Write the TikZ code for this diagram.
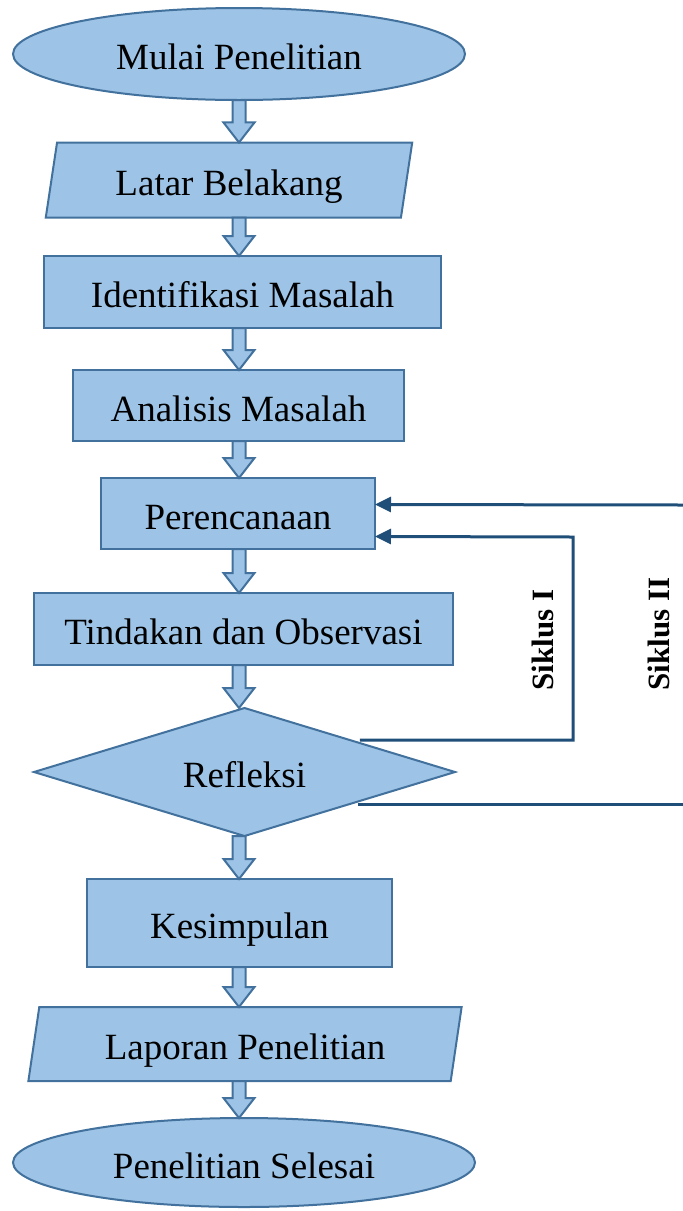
\documentclass[tikz,border=0pt]{standalone}
\usepackage{fontspec}
\setmainfont{Liberation Serif}
\usetikzlibrary{shapes.geometric,calc,arrows.meta}

\definecolor{boxfill}{RGB}{157,195,230}
\definecolor{boxline}{RGB}{65,113,156}
\definecolor{loopcolor}{RGB}{31,78,121}

\tikzset{
  box/.style={draw=boxline, fill=boxfill, line width=1pt, inner sep=0pt, outer sep=0pt,
    text height=15.5pt, text depth=0pt, font=\fontsize{18.5}{22}\selectfont},
  startstop/.style={box, ellipse},
  iobox/.style={box, trapezium, trapezium left angle=76.5, trapezium right angle=103.5,
    trapezium stretches=true},
  decision/.style={box, diamond, aspect=3.29},
  blockarr/.style={draw=boxline, fill=boxfill, line width=1pt, line join=miter},
  loopline/.style={draw=loopcolor, line width=1.5pt},
  looparrow/.style={loopline, -{Triangle[length=8pt,width=7.5pt]}},
  cyclelabel/.style={rotate=90, font=\fontsize{15.5}{18}\bfseries}
}

% block arrow between two nodes, on the vertical axis
\newcommand{\blockarrow}[2]{%
  \path[blockarr] let \p1=(#1.south -| axis), \p2=(#2.north -| axis) in
    (\x1-3.25pt,\y1) -- (\x1-3.25pt,\y2+10pt) -- (\x1-7.75pt,\y2+10pt) -- (\x1,\y2)
    -- (\x1+7.75pt,\y2+10pt) -- (\x1+3.25pt,\y2+10pt) -- (\x1+3.25pt,\y1) -- cycle;}

\begin{document}
\begin{tikzpicture}[x=0.5pt,y=-0.5pt]
\useasboundingbox (0,0) rectangle (683,1211);
\coordinate (axis) at (239,0);

% main flow
\node[startstop, minimum width=226pt, minimum height=46pt] (start) at (239,54) {Mulai Penelitian};
\node[iobox, minimum width=183.5pt, minimum height=37.5pt] (latar) at (229,180) {Latar Belakang};
\node[box, minimum width=198.5pt, minimum height=36pt] (ident) at (242.5,292) {Identifikasi Masalah};
\node[box, minimum width=165.5pt, minimum height=35.5pt] (anal) at (238.5,405.5) {Analisis Masalah};
\node[box, minimum width=137pt, minimum height=35.5pt] (renc) at (238,513.5) {Perencanaan};
\node[box, minimum width=209.5pt, minimum height=36pt] (tind) at (243.5,629) {Tindakan dan Observasi};
\node[decision, minimum width=210.5pt, minimum height=64pt] (refl) at (244.5,772) {Refleksi};
\node[box, minimum width=152.5pt, minimum height=44pt] (kesim) at (239.5,923) {Kesimpulan};
\node[iobox, minimum width=217pt, minimum height=37pt] (lapor) at (245,1044) {Laporan Penelitian};
\node[startstop, minimum width=231pt, minimum height=44.5pt] (selesai) at (244,1162.5) {Penelitian Selesai};

\blockarrow{start}{latar}
\blockarrow{latar}{ident}
\blockarrow{ident}{anal}
\blockarrow{anal}{renc}
\blockarrow{renc}{tind}
\blockarrow{tind}{refl}
\blockarrow{refl}{kesim}
\blockarrow{kesim}{lapor}
\blockarrow{lapor}{selesai}

% feedback loops
\coordinate (cyc1) at (573,537);
\coordinate (cyc2a) at (683,804);
\coordinate (cyc2b) at (683,505);
\draw[looparrow] ([xshift=5pt]refl.north east) -| (cyc1) -- ([yshift=-11.5pt]renc.east);
\draw[loopline] ([xshift=4pt]refl.south east) -- (cyc2a);
\draw[looparrow] (cyc2b) -- ([yshift=4.5pt]renc.east);

\node[cyclelabel] (lab1) at (542.5,640) {Siklus I};
\node[cyclelabel] (lab2) at (659,634) {Siklus II};
\end{tikzpicture}
\end{document}
